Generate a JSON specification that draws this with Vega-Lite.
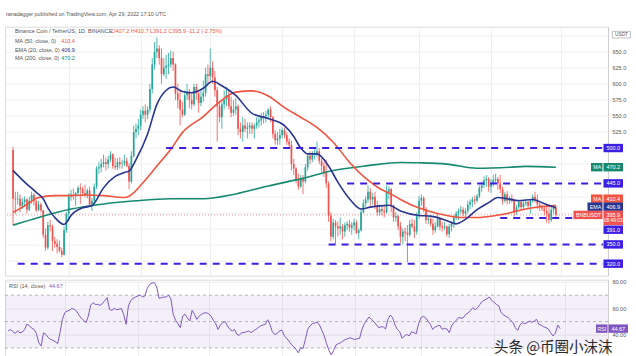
{
"$schema":"https://vega.github.io/schema/vega-lite/v6.json",
"padding":{"left":4,"top":11.7,"right":0,"bottom":0},
"background":"white",
"title":{"text":"ranadagger published on TradingView.com, Apr 29, 2022 17:10 UTC","anchor":"start","fontSize":5.3,"font":"Liberation Sans","fontWeight":"normal","color":"#555555","offset":4,"baseline":"bottom","dx":2},
"config":{"font":"Liberation Sans","view":{"stroke":"#dcdcdc","strokeWidth":1},"concat":{"spacing":2},"axis":{"labelFont":"Liberation Sans"}},
"datasets":{
"k":[
{"d":"2021-09-07","o":497,"h":502,"l":380,"c":421,"r":43},
{"d":"2021-09-08","o":421,"h":432,"l":397,"c":420,"r":44},
{"d":"2021-09-09","o":420,"h":432,"l":412,"c":421,"r":42.5},
{"d":"2021-09-10","o":421,"h":428,"l":400,"c":410,"r":41},
{"d":"2021-09-11","o":410,"h":422,"l":405,"c":416,"r":43},
{"d":"2021-09-12","o":416,"h":425,"l":408,"c":420,"r":41.5},
{"d":"2021-09-13","o":420,"h":422,"l":398,"c":404,"r":42},
{"d":"2021-09-14","o":404,"h":424,"l":402,"c":418,"r":44},
{"d":"2021-09-15","o":418,"h":432,"l":413,"c":427,"r":48},
{"d":"2021-09-16","o":427,"h":430,"l":410,"c":417,"r":47},
{"d":"2021-09-17","o":417,"h":420,"l":400,"c":403,"r":45},
{"d":"2021-09-18","o":403,"h":418,"l":402,"c":412,"r":44},
{"d":"2021-09-19","o":412,"h":415,"l":400,"c":403,"r":41},
{"d":"2021-09-20","o":403,"h":404,"l":360,"c":365,"r":34},
{"d":"2021-09-21","o":365,"h":375,"l":340,"c":345,"r":31.5},
{"d":"2021-09-22","o":345,"h":385,"l":342,"c":380,"r":41.5},
{"d":"2021-09-23","o":380,"h":388,"l":370,"c":378,"r":40.3},
{"d":"2021-09-24","o":378,"h":381,"l":340,"c":355,"r":38},
{"d":"2021-09-25","o":355,"h":362,"l":345,"c":351,"r":36.5},
{"d":"2021-09-26","o":351,"h":358,"l":336,"c":346,"r":35.8},
{"d":"2021-09-27","o":346,"h":356,"l":338,"c":340,"r":34.8},
{"d":"2021-09-28","o":340,"h":345,"l":330,"c":334,"r":33.3},
{"d":"2021-09-29","o":334,"h":378,"l":333,"c":372,"r":41.5},
{"d":"2021-09-30","o":372,"h":400,"l":368,"c":398,"r":51.7},
{"d":"2021-10-01","o":398,"h":430,"l":390,"c":425,"r":56.7},
{"d":"2021-10-02","o":425,"h":435,"l":418,"c":428,"r":58},
{"d":"2021-10-03","o":428,"h":437,"l":420,"c":427,"r":58.5},
{"d":"2021-10-04","o":427,"h":432,"l":410,"c":430,"r":60},
{"d":"2021-10-05","o":430,"h":441,"l":425,"c":438,"r":59.3},
{"d":"2021-10-06","o":438,"h":445,"l":413,"c":436,"r":58},
{"d":"2021-10-07","o":436,"h":440,"l":425,"c":430,"r":55},
{"d":"2021-10-08","o":430,"h":443,"l":424,"c":427,"r":52.5},
{"d":"2021-10-09","o":427,"h":437,"l":422,"c":434,"r":51},
{"d":"2021-10-10","o":434,"h":440,"l":410,"c":412,"r":49.2},
{"d":"2021-10-11","o":412,"h":422,"l":402,"c":418,"r":54.2},
{"d":"2021-10-12","o":418,"h":445,"l":410,"c":440,"r":62.5},
{"d":"2021-10-13","o":440,"h":472,"l":436,"c":468,"r":64.3},
{"d":"2021-10-14","o":468,"h":478,"l":460,"c":470,"r":63},
{"d":"2021-10-15","o":470,"h":483,"l":462,"c":475,"r":63},
{"d":"2021-10-16","o":475,"h":490,"l":470,"c":478,"r":62.3},
{"d":"2021-10-17","o":478,"h":485,"l":465,"c":475,"r":63.6},
{"d":"2021-10-18","o":475,"h":488,"l":468,"c":482,"r":66},
{"d":"2021-10-19","o":482,"h":495,"l":478,"c":490,"r":68.1},
{"d":"2021-10-20","o":490,"h":492,"l":468,"c":472,"r":59.3},
{"d":"2021-10-21","o":472,"h":485,"l":466,"c":470,"r":58.5},
{"d":"2021-10-22","o":470,"h":484,"l":466,"c":478,"r":60},
{"d":"2021-10-23","o":478,"h":486,"l":468,"c":475,"r":59},
{"d":"2021-10-24","o":475,"h":482,"l":468,"c":476,"r":59.3},
{"d":"2021-10-25","o":476,"h":490,"l":472,"c":480,"r":60},
{"d":"2021-10-26","o":480,"h":485,"l":470,"c":472,"r":55.5},
{"d":"2021-10-27","o":472,"h":476,"l":436,"c":448,"r":47.9},
{"d":"2021-10-28","o":448,"h":495,"l":445,"c":488,"r":61.8},
{"d":"2021-10-29","o":488,"h":535,"l":485,"c":525,"r":66},
{"d":"2021-10-30","o":525,"h":538,"l":515,"c":530,"r":67.6},
{"d":"2021-10-31","o":530,"h":545,"l":520,"c":535,"r":68.6},
{"d":"2021-11-01","o":535,"h":560,"l":528,"c":552,"r":69.4},
{"d":"2021-11-02","o":552,"h":565,"l":545,"c":558,"r":70.1},
{"d":"2021-11-03","o":558,"h":568,"l":540,"c":552,"r":68.6},
{"d":"2021-11-04","o":552,"h":565,"l":545,"c":560,"r":69.4},
{"d":"2021-11-05","o":560,"h":600,"l":555,"c":592,"r":75.2},
{"d":"2021-11-06","o":592,"h":640,"l":585,"c":630,"r":78.2},
{"d":"2021-11-07","o":630,"h":665,"l":622,"c":650,"r":79.2},
{"d":"2021-11-08","o":650,"h":672,"l":640,"c":655,"r":79.5},
{"d":"2021-11-09","o":655,"h":660,"l":630,"c":640,"r":76.2},
{"d":"2021-11-10","o":640,"h":655,"l":600,"c":615,"r":67.6},
{"d":"2021-11-11","o":615,"h":640,"l":612,"c":625,"r":68.1},
{"d":"2021-11-12","o":625,"h":645,"l":608,"c":628,"r":68.6},
{"d":"2021-11-13","o":628,"h":648,"l":615,"c":630,"r":68.6},
{"d":"2021-11-14","o":630,"h":652,"l":625,"c":640,"r":70.1},
{"d":"2021-11-15","o":640,"h":650,"l":620,"c":630,"r":67.3},
{"d":"2021-11-16","o":630,"h":632,"l":575,"c":585,"r":55.5},
{"d":"2021-11-17","o":585,"h":600,"l":562,"c":575,"r":51},
{"d":"2021-11-18","o":575,"h":590,"l":535,"c":560,"r":48.4},
{"d":"2021-11-19","o":560,"h":572,"l":548,"c":552,"r":45.4},
{"d":"2021-11-20","o":552,"h":590,"l":550,"c":582,"r":54.2},
{"d":"2021-11-21","o":582,"h":600,"l":575,"c":588,"r":55.5},
{"d":"2021-11-22","o":588,"h":592,"l":562,"c":575,"r":52.9},
{"d":"2021-11-23","o":575,"h":585,"l":560,"c":568,"r":50.4},
{"d":"2021-11-24","o":568,"h":600,"l":565,"c":595,"r":58.5},
{"d":"2021-11-25","o":595,"h":600,"l":575,"c":585,"r":55.5},
{"d":"2021-11-26","o":585,"h":590,"l":555,"c":570,"r":51.7},
{"d":"2021-11-27","o":570,"h":590,"l":565,"c":580,"r":54.2},
{"d":"2021-11-28","o":580,"h":605,"l":572,"c":586,"r":55.5},
{"d":"2021-11-29","o":586,"h":625,"l":580,"c":615,"r":56.5},
{"d":"2021-11-30","o":615,"h":630,"l":600,"c":612,"r":56.7},
{"d":"2021-12-01","o":612,"h":655,"l":605,"c":625,"r":56},
{"d":"2021-12-02","o":625,"h":635,"l":600,"c":610,"r":54.2},
{"d":"2021-12-03","o":610,"h":620,"l":580,"c":590,"r":51},
{"d":"2021-12-04","o":590,"h":595,"l":510,"c":565,"r":48.4},
{"d":"2021-12-05","o":565,"h":572,"l":540,"c":548,"r":44.1},
{"d":"2021-12-06","o":548,"h":575,"l":530,"c":568,"r":47.4},
{"d":"2021-12-07","o":568,"h":590,"l":560,"c":575,"r":49.2},
{"d":"2021-12-08","o":575,"h":595,"l":565,"c":582,"r":50},
{"d":"2021-12-09","o":582,"h":590,"l":560,"c":565,"r":46.7},
{"d":"2021-12-10","o":565,"h":580,"l":548,"c":555,"r":44.1},
{"d":"2021-12-11","o":555,"h":575,"l":550,"c":560,"r":42.9},
{"d":"2021-12-12","o":560,"h":578,"l":552,"c":565,"r":44.1},
{"d":"2021-12-13","o":565,"h":568,"l":520,"c":530,"r":40.3},
{"d":"2021-12-14","o":530,"h":540,"l":515,"c":525,"r":39.6},
{"d":"2021-12-15","o":525,"h":548,"l":510,"c":535,"r":41.6},
{"d":"2021-12-16","o":535,"h":545,"l":525,"c":530,"r":41.6},
{"d":"2021-12-17","o":530,"h":540,"l":515,"c":532,"r":42.3},
{"d":"2021-12-18","o":532,"h":540,"l":522,"c":535,"r":42.9},
{"d":"2021-12-19","o":535,"h":540,"l":522,"c":530,"r":41.6},
{"d":"2021-12-20","o":530,"h":538,"l":515,"c":535,"r":42.9},
{"d":"2021-12-21","o":535,"h":548,"l":530,"c":540,"r":44.1},
{"d":"2021-12-22","o":540,"h":548,"l":532,"c":543,"r":45.4},
{"d":"2021-12-23","o":543,"h":555,"l":535,"c":548,"r":46.7},
{"d":"2021-12-24","o":548,"h":556,"l":538,"c":550,"r":47.4},
{"d":"2021-12-25","o":550,"h":558,"l":540,"c":552,"r":47.9},
{"d":"2021-12-26","o":552,"h":562,"l":545,"c":560,"r":51.4},
{"d":"2021-12-27","o":560,"h":565,"l":540,"c":548,"r":47.9},
{"d":"2021-12-28","o":548,"h":550,"l":515,"c":522,"r":42.3},
{"d":"2021-12-29","o":522,"h":528,"l":505,"c":512,"r":40.3},
{"d":"2021-12-30","o":512,"h":525,"l":505,"c":515,"r":40.8},
{"d":"2021-12-31","o":515,"h":530,"l":505,"c":520,"r":42.9},
{"d":"2022-01-01","o":520,"h":532,"l":515,"c":528,"r":43.6},
{"d":"2022-01-02","o":528,"h":532,"l":515,"c":520,"r":39.6},
{"d":"2022-01-03","o":520,"h":525,"l":505,"c":510,"r":37.3},
{"d":"2022-01-04","o":510,"h":515,"l":500,"c":505,"r":35.3},
{"d":"2022-01-05","o":505,"h":512,"l":465,"c":475,"r":32.8},
{"d":"2022-01-06","o":475,"h":483,"l":458,"c":468,"r":31.2},
{"d":"2022-01-07","o":468,"h":470,"l":445,"c":452,"r":29},
{"d":"2022-01-08","o":452,"h":460,"l":435,"c":440,"r":26.4},
{"d":"2022-01-09","o":440,"h":458,"l":438,"c":452,"r":30.2},
{"d":"2022-01-10","o":452,"h":458,"l":428,"c":448,"r":29.5},
{"d":"2022-01-11","o":448,"h":475,"l":445,"c":470,"r":36.5},
{"d":"2022-01-12","o":470,"h":492,"l":465,"c":488,"r":44.1},
{"d":"2022-01-13","o":488,"h":495,"l":475,"c":482,"r":46.9},
{"d":"2022-01-14","o":482,"h":495,"l":478,"c":490,"r":48.4},
{"d":"2022-01-15","o":490,"h":498,"l":482,"c":492,"r":48.9},
{"d":"2022-01-16","o":492,"h":510,"l":486,"c":495,"r":49.7},
{"d":"2022-01-17","o":495,"h":500,"l":475,"c":480,"r":47.4},
{"d":"2022-01-18","o":480,"h":484,"l":462,"c":472,"r":43.4},
{"d":"2022-01-19","o":472,"h":478,"l":455,"c":462,"r":39.1},
{"d":"2022-01-20","o":462,"h":482,"l":438,"c":445,"r":33.3},
{"d":"2022-01-21","o":445,"h":448,"l":385,"c":395,"r":28.2},
{"d":"2022-01-22","o":395,"h":400,"l":355,"c":362,"r":24.7},
{"d":"2022-01-23","o":362,"h":390,"l":358,"c":384,"r":28.2},
{"d":"2022-01-24","o":384,"h":388,"l":350,"c":378,"r":32.3},
{"d":"2022-01-25","o":378,"h":386,"l":362,"c":375,"r":33.3},
{"d":"2022-01-26","o":375,"h":392,"l":365,"c":378,"r":34},
{"d":"2022-01-27","o":378,"h":382,"l":358,"c":370,"r":35.3},
{"d":"2022-01-28","o":370,"h":384,"l":362,"c":380,"r":36.5},
{"d":"2022-01-29","o":380,"h":386,"l":372,"c":382,"r":37},
{"d":"2022-01-30","o":382,"h":388,"l":370,"c":376,"r":37.8},
{"d":"2022-01-31","o":376,"h":385,"l":365,"c":380,"r":37},
{"d":"2022-02-01","o":380,"h":390,"l":372,"c":384,"r":36.5},
{"d":"2022-02-02","o":384,"h":388,"l":366,"c":368,"r":37},
{"d":"2022-02-03","o":368,"h":375,"l":358,"c":372,"r":37.3},
{"d":"2022-02-04","o":372,"h":405,"l":370,"c":400,"r":44.1},
{"d":"2022-02-05","o":400,"h":420,"l":398,"c":414,"r":48.4},
{"d":"2022-02-06","o":414,"h":425,"l":408,"c":420,"r":51.2},
{"d":"2022-02-07","o":420,"h":442,"l":415,"c":432,"r":53.5},
{"d":"2022-02-08","o":432,"h":438,"l":410,"c":420,"r":51.7},
{"d":"2022-02-09","o":420,"h":430,"l":412,"c":424,"r":50},
{"d":"2022-02-10","o":424,"h":432,"l":405,"c":410,"r":47.9},
{"d":"2022-02-11","o":410,"h":418,"l":395,"c":400,"r":45.4},
{"d":"2022-02-12","o":400,"h":412,"l":395,"c":405,"r":45.9},
{"d":"2022-02-13","o":405,"h":410,"l":395,"c":402,"r":46.1},
{"d":"2022-02-14","o":402,"h":412,"l":392,"c":400,"r":44.4},
{"d":"2022-02-15","o":400,"h":442,"l":398,"c":432,"r":51.7},
{"d":"2022-02-16","o":432,"h":440,"l":420,"c":436,"r":55},
{"d":"2022-02-17","o":436,"h":438,"l":400,"c":410,"r":52.9},
{"d":"2022-02-18","o":410,"h":412,"l":385,"c":392,"r":47.4},
{"d":"2022-02-19","o":392,"h":400,"l":385,"c":394,"r":44.1},
{"d":"2022-02-20","o":394,"h":396,"l":372,"c":378,"r":42.3},
{"d":"2022-02-21","o":378,"h":385,"l":352,"c":362,"r":37.3},
{"d":"2022-02-22","o":362,"h":375,"l":350,"c":370,"r":39.1},
{"d":"2022-02-23","o":370,"h":376,"l":355,"c":368,"r":40.3},
{"d":"2022-02-24","o":368,"h":380,"l":322,"c":365,"r":39.1},
{"d":"2022-02-25","o":365,"h":388,"l":362,"c":382,"r":42.3},
{"d":"2022-02-26","o":382,"h":390,"l":375,"c":378,"r":41.6},
{"d":"2022-02-27","o":378,"h":388,"l":360,"c":370,"r":40.8},
{"d":"2022-02-28","o":370,"h":400,"l":365,"c":396,"r":48.4},
{"d":"2022-03-01","o":396,"h":425,"l":390,"c":418,"r":52.9},
{"d":"2022-03-02","o":418,"h":428,"l":410,"c":422,"r":54},
{"d":"2022-03-03","o":422,"h":425,"l":400,"c":405,"r":52.9},
{"d":"2022-03-04","o":405,"h":408,"l":382,"c":388,"r":50.4},
{"d":"2022-03-05","o":388,"h":395,"l":382,"c":390,"r":47.9},
{"d":"2022-03-06","o":390,"h":392,"l":378,"c":382,"r":44.1},
{"d":"2022-03-07","o":382,"h":390,"l":365,"c":372,"r":45.9},
{"d":"2022-03-08","o":372,"h":385,"l":368,"c":378,"r":46.7},
{"d":"2022-03-09","o":378,"h":398,"l":376,"c":390,"r":47.2},
{"d":"2022-03-10","o":390,"h":392,"l":372,"c":378,"r":44.1},
{"d":"2022-03-11","o":378,"h":385,"l":370,"c":376,"r":44.9},
{"d":"2022-03-12","o":376,"h":385,"l":372,"c":378,"r":44.4},
{"d":"2022-03-13","o":378,"h":380,"l":362,"c":366,"r":41.6},
{"d":"2022-03-14","o":366,"h":382,"l":360,"c":378,"r":46.7},
{"d":"2022-03-15","o":378,"h":386,"l":370,"c":382,"r":49.2},
{"d":"2022-03-16","o":382,"h":396,"l":376,"c":392,"r":51},
{"d":"2022-03-17","o":392,"h":402,"l":388,"c":398,"r":53.2},
{"d":"2022-03-18","o":398,"h":406,"l":388,"c":402,"r":52.5},
{"d":"2022-03-19","o":402,"h":410,"l":398,"c":404,"r":52.9},
{"d":"2022-03-20","o":404,"h":408,"l":394,"c":398,"r":55.5},
{"d":"2022-03-21","o":398,"h":406,"l":392,"c":402,"r":56.5},
{"d":"2022-03-22","o":402,"h":418,"l":398,"c":412,"r":58.5},
{"d":"2022-03-23","o":412,"h":420,"l":405,"c":416,"r":60.5},
{"d":"2022-03-24","o":416,"h":424,"l":408,"c":420,"r":59},
{"d":"2022-03-25","o":420,"h":426,"l":412,"c":418,"r":60.5},
{"d":"2022-03-26","o":418,"h":428,"l":415,"c":425,"r":63},
{"d":"2022-03-27","o":425,"h":442,"l":422,"c":438,"r":65.3},
{"d":"2022-03-28","o":438,"h":448,"l":432,"c":442,"r":66.3},
{"d":"2022-03-29","o":442,"h":456,"l":438,"c":450,"r":67.3},
{"d":"2022-03-30","o":450,"h":458,"l":440,"c":452,"r":68.6},
{"d":"2022-03-31","o":452,"h":455,"l":432,"c":440,"r":66},
{"d":"2022-04-01","o":440,"h":452,"l":430,"c":445,"r":64.6},
{"d":"2022-04-02","o":445,"h":458,"l":440,"c":450,"r":63},
{"d":"2022-04-03","o":450,"h":460,"l":445,"c":452,"r":62},
{"d":"2022-04-04","o":452,"h":455,"l":435,"c":445,"r":56.7},
{"d":"2022-04-05","o":445,"h":458,"l":430,"c":436,"r":55},
{"d":"2022-04-06","o":436,"h":440,"l":412,"c":418,"r":54},
{"d":"2022-04-07","o":418,"h":432,"l":415,"c":428,"r":52.9},
{"d":"2022-04-08","o":428,"h":433,"l":412,"c":418,"r":51.2},
{"d":"2022-04-09","o":418,"h":425,"l":413,"c":422,"r":49.2},
{"d":"2022-04-10","o":422,"h":428,"l":415,"c":418,"r":45.4},
{"d":"2022-04-11","o":418,"h":420,"l":393,"c":400,"r":43.4},
{"d":"2022-04-12","o":400,"h":412,"l":396,"c":408,"r":47.5},
{"d":"2022-04-13","o":408,"h":420,"l":405,"c":416,"r":49.2},
{"d":"2022-04-14","o":416,"h":420,"l":404,"c":408,"r":48.4},
{"d":"2022-04-15","o":408,"h":418,"l":405,"c":414,"r":49.2},
{"d":"2022-04-16","o":414,"h":420,"l":410,"c":416,"r":50.4},
{"d":"2022-04-17","o":416,"h":418,"l":405,"c":410,"r":49.4},
{"d":"2022-04-18","o":410,"h":420,"l":398,"c":418,"r":50.4},
{"d":"2022-04-19","o":418,"h":428,"l":415,"c":424,"r":51.7},
{"d":"2022-04-20","o":424,"h":432,"l":415,"c":420,"r":47.9},
{"d":"2022-04-21","o":420,"h":428,"l":405,"c":412,"r":47.2},
{"d":"2022-04-22","o":412,"h":418,"l":402,"c":408,"r":46.1},
{"d":"2022-04-23","o":408,"h":412,"l":402,"c":406,"r":45.4},
{"d":"2022-04-24","o":406,"h":410,"l":395,"c":402,"r":44.4},
{"d":"2022-04-25","o":402,"h":410,"l":384,"c":398,"r":41.6},
{"d":"2022-04-26","o":398,"h":412,"l":382,"c":388,"r":39.1},
{"d":"2022-04-27","o":388,"h":410,"l":385,"c":404,"r":41.3},
{"d":"2022-04-28","o":404,"h":412,"l":398,"c":407.2,"r":47.4},
{"d":"2022-04-29","o":407.2,"h":410.7,"l":391.2,"c":395.9,"r":44.67}
],
"ma":[
{"d":"2021-09-07","s":"ma200","v":380},{"d":"2021-09-18","s":"ma200","v":392},{"d":"2021-10-02","s":"ma200","v":405},{"d":"2021-10-16","s":"ma200","v":413},{"d":"2021-10-30","s":"ma200","v":418},{"d":"2021-11-14","s":"ma200","v":421},{"d":"2021-11-28","s":"ma200","v":421},{"d":"2021-12-12","s":"ma200","v":428.5},{"d":"2021-12-26","s":"ma200","v":441},{"d":"2022-01-09","s":"ma200","v":452},{"d":"2022-01-23","s":"ma200","v":465},{"d":"2022-02-07","s":"ma200","v":472.6},{"d":"2022-02-21","s":"ma200","v":477.5},{"d":"2022-03-01","s":"ma200","v":477},{"d":"2022-03-13","s":"ma200","v":475},{"d":"2022-03-26","s":"ma200","v":468.5},{"d":"2022-04-09","s":"ma200","v":470},{"d":"2022-04-16","s":"ma200","v":471.5},{"d":"2022-04-29","s":"ma200","v":470.2},
{"d":"2021-09-07","s":"ma50","v":400},{"d":"2021-09-12","s":"ma50","v":410},{"d":"2021-09-18","s":"ma50","v":423},{"d":"2021-09-25","s":"ma50","v":426},{"d":"2021-10-02","s":"ma50","v":426},{"d":"2021-10-09","s":"ma50","v":427},{"d":"2021-10-16","s":"ma50","v":426},{"d":"2021-10-25","s":"ma50","v":423},{"d":"2021-10-27","s":"ma50","v":425},{"d":"2021-11-02","s":"ma50","v":446},{"d":"2021-11-08","s":"ma50","v":472},{"d":"2021-11-14","s":"ma50","v":498},{"d":"2021-11-19","s":"ma50","v":524},{"d":"2021-11-28","s":"ma50","v":549},{"d":"2021-12-05","s":"ma50","v":572},{"d":"2021-12-12","s":"ma50","v":587},{"d":"2021-12-19","s":"ma50","v":589},{"d":"2021-12-26","s":"ma50","v":581},{"d":"2022-01-02","s":"ma50","v":563},{"d":"2022-01-09","s":"ma50","v":548},{"d":"2022-01-16","s":"ma50","v":532},{"d":"2022-01-23","s":"ma50","v":509},{"d":"2022-01-30","s":"ma50","v":478},{"d":"2022-02-07","s":"ma50","v":450},{"d":"2022-02-12","s":"ma50","v":437},{"d":"2022-02-16","s":"ma50","v":430},{"d":"2022-02-21","s":"ma50","v":420},{"d":"2022-02-26","s":"ma50","v":411},{"d":"2022-03-05","s":"ma50","v":402},{"d":"2022-03-13","s":"ma50","v":395},{"d":"2022-03-19","s":"ma50","v":392},{"d":"2022-03-26","s":"ma50","v":392},{"d":"2022-04-03","s":"ma50","v":395},{"d":"2022-04-09","s":"ma50","v":399},{"d":"2022-04-16","s":"ma50","v":405},{"d":"2022-04-23","s":"ma50","v":409},{"d":"2022-04-29","s":"ma50","v":410.4},
{"d":"2021-09-07","s":"ema","v":465},{"d":"2021-09-12","s":"ema","v":447},{"d":"2021-09-17","s":"ema","v":431},{"d":"2021-09-20","s":"ema","v":421},{"d":"2021-09-22","s":"ema","v":407},{"d":"2021-09-25","s":"ema","v":392},{"d":"2021-09-29","s":"ema","v":381},{"d":"2021-09-30","s":"ema","v":384},{"d":"2021-10-02","s":"ema","v":395},{"d":"2021-10-07","s":"ema","v":407},{"d":"2021-10-11","s":"ema","v":410},{"d":"2021-10-12","s":"ema","v":414},{"d":"2021-10-16","s":"ema","v":438},{"d":"2021-10-21","s":"ema","v":456},{"d":"2021-10-25","s":"ema","v":462},{"d":"2021-10-27","s":"ema","v":464},{"d":"2021-10-30","s":"ema","v":482},{"d":"2021-11-04","s":"ema","v":522},{"d":"2021-11-08","s":"ema","v":568},{"d":"2021-11-12","s":"ema","v":590},{"d":"2021-11-15","s":"ema","v":595},{"d":"2021-11-19","s":"ema","v":588},{"d":"2021-11-23","s":"ema","v":586},{"d":"2021-11-28","s":"ema","v":593},{"d":"2021-12-02","s":"ema","v":604},{"d":"2021-12-06","s":"ema","v":597},{"d":"2021-12-12","s":"ema","v":582},{"d":"2021-12-19","s":"ema","v":554},{"d":"2021-12-26","s":"ema","v":546},{"d":"2022-01-02","s":"ema","v":535},{"d":"2022-01-06","s":"ema","v":518},{"d":"2022-01-09","s":"ema","v":500},{"d":"2022-01-12","s":"ema","v":491},{"d":"2022-01-16","s":"ema","v":491},{"d":"2022-01-21","s":"ema","v":472},{"d":"2022-01-25","s":"ema","v":447},{"d":"2022-01-30","s":"ema","v":421},{"d":"2022-02-04","s":"ema","v":405},{"d":"2022-02-08","s":"ema","v":408},{"d":"2022-02-12","s":"ema","v":410},{"d":"2022-02-16","s":"ema","v":411},{"d":"2022-02-21","s":"ema","v":402},{"d":"2022-03-01","s":"ema","v":395},{"d":"2022-03-06","s":"ema","v":394},{"d":"2022-03-13","s":"ema","v":387},{"d":"2022-03-17","s":"ema","v":382},{"d":"2022-03-21","s":"ema","v":389},{"d":"2022-03-26","s":"ema","v":404},{"d":"2022-03-31","s":"ema","v":415},{"d":"2022-04-04","s":"ema","v":423},{"d":"2022-04-08","s":"ema","v":421},{"d":"2022-04-13","s":"ema","v":418},{"d":"2022-04-19","s":"ema","v":420},{"d":"2022-04-23","s":"ema","v":415},{"d":"2022-04-29","s":"ema","v":406.9}
],
"lv":[{"v":500,"from":"2021-11-12"},{"v":445,"from":"2022-01-29"},{"v":391,"from":"2022-04-05"},{"v":350,"from":"2022-01-21"},{"v":320,"from":"2021-09-09"}],
"pl":[
{"t":"500.0","k":"val","c":"lvl","y":500},
{"t":"470.2","k":"val","c":"ma200","y":470.2},
{"t":"MA","k":"ma","c":"ma200","y":470.2},
{"t":"445.0","k":"val","c":"lvl","y":445},
{"t":"410.4","k":"val","c":"ma50","y":421.2},
{"t":"MA","k":"ma","c":"ma50","y":421.2},
{"t":"406.9","k":"val","c":"ema","y":408.7},
{"t":"EMA","k":"ema","c":"ema","y":408.7},
{"t":"395.9","k":"val2","c":"last","y":395.9},
{"t":"BNBUSDT","k":"bnb","c":"last","y":395.9},
{"t":"08:49:03","k":"sub","c":"last","y":386.9},
{"t":"391.0","k":"val","c":"lvl","y":372.9},
{"t":"350.0","k":"val","c":"lvl","y":350},
{"t":"320.0","k":"val","c":"lvl","y":320}
],
"lg":[
{"t":"Binance Coin / TetherUS, 1D, BINANCE","part":"name","c":"lab","y":681.6},
{"t":"O407.2 H410.7 L391.2 C395.9 -11.2 (-2.75%)","part":"ohlc","c":"ohlc","y":681.6},
{"t":"MA (50, close, 0)","part":"name","c":"lab","y":667.1},
{"t":"410.4","part":"value","c":"ma50","y":667.1},
{"t":"EMA (20, close, 0)","part":"name","c":"lab","y":653.1},
{"t":"406.9","part":"value","c":"ema","y":653.1},
{"t":"MA (200, close, 0)","part":"name","c":"lab","y":639.6},
{"t":"470.2","part":"value","c":"ma200","y":639.6}
]
},
"vconcat":[
{
"width":603,"height":249,
"resolve":{"axis":{"x":"independent","y":"independent"}},
"layer":[
{"data":{"name":"k"},"mark":{"type":"rule","strokeWidth":0.8},
 "encoding":{
  "x":{"field":"d","type":"temporal","scale":{"domain":[{"year":2021,"month":9,"date":5,"hours":16,"minutes":30,"utc":true},{"year":2022,"month":5,"date":19,"hours":7,"utc":true}],"nice":false},
       "axis":{"orient":"bottom","values":[{"year":2021,"month":10,"date":1,"utc":true},{"year":2021,"month":11,"date":1,"utc":true},{"year":2021,"month":12,"date":1,"utc":true},{"year":2022,"month":1,"date":1,"utc":true},{"year":2022,"month":2,"date":1,"utc":true},{"year":2022,"month":3,"date":1,"utc":true},{"year":2022,"month":4,"date":1,"utc":true},{"year":2022,"month":5,"date":1,"utc":true}],"grid":true,"gridColor":"#efefef","labels":false,"ticks":false,"domain":false,"title":null}},
  "y":{"field":"l","type":"quantitative","scale":{"domain":[301.3,688.9],"nice":false,"zero":false},
       "axis":{"orient":"right","values":[325,350,375,400,425,450,475,500,525,550,575,600,625,650,675],"format":".1f","labelExpr":"datum.value >= 525 && datum.value <= 650 ? datum.label : ''","grid":true,"gridColor":"#f0f0f0","ticks":false,"domain":true,"domainColor":"#d0d0d0","labelFontSize":5.5,"labelColor":"#555555","labelPadding":4,"labelOverlap":false,"title":null}},
  "y2":{"field":"h"},
  "color":{"condition":{"test":"datum.c >= datum.o","value":"#26a69a"},"value":"#ef5350"}}},
{"data":{"values":[{"v":395.9}]},"mark":{"type":"rule","color":"#ef5350","strokeDash":[1,2],"strokeWidth":0.8,"opacity":0.8},
 "encoding":{"y":{"field":"v","type":"quantitative","scale":{"domain":[301.3,688.9],"nice":false,"zero":false},"axis":null}}},
{"data":{"name":"k"},"mark":{"type":"bar","size":1.7},
 "encoding":{
  "x":{"field":"d","type":"temporal","scale":{"domain":[{"year":2021,"month":9,"date":5,"hours":16,"minutes":30,"utc":true},{"year":2022,"month":5,"date":19,"hours":7,"utc":true}],"nice":false},"axis":null},
  "y":{"field":"o","type":"quantitative","scale":{"domain":[301.3,688.9],"nice":false,"zero":false},"axis":null},
  "y2":{"field":"c"},
  "color":{"condition":{"test":"datum.c >= datum.o","value":"#26a69a"},"value":"#ef5350"}}},
{"data":{"name":"ma"},"mark":{"type":"line","strokeWidth":1.6,"interpolate":"monotone"},
 "encoding":{
  "x":{"field":"d","type":"temporal","scale":{"domain":[{"year":2021,"month":9,"date":5,"hours":16,"minutes":30,"utc":true},{"year":2022,"month":5,"date":19,"hours":7,"utc":true}],"nice":false},"axis":null},
  "y":{"field":"v","type":"quantitative","scale":{"domain":[301.3,688.9],"nice":false,"zero":false},"axis":null},
  "color":{"field":"s","type":"nominal","scale":{"domain":["lvl","ma200","ma50","ema","last","lab","ohlc"],"range":["#3b1fe3","#17896f","#f0533e","#283593","#ef5350","#555555","#ef5350"]},"legend":null}}},
{"data":{"name":"lv"},"mark":{"type":"rule","color":"#3b1fe3","strokeWidth":2,"strokeDash":[7,6]},
 "encoding":{
  "x":{"field":"from","type":"temporal","scale":{"domain":[{"year":2021,"month":9,"date":5,"hours":16,"minutes":30,"utc":true},{"year":2022,"month":5,"date":19,"hours":7,"utc":true}],"nice":false},"axis":null},
  "x2":{"datum":{"year":2022,"month":5,"date":19,"hours":7,"utc":true}},
  "y":{"field":"v","type":"quantitative","scale":{"domain":[301.3,688.9],"nice":false,"zero":false},"axis":null}}},
{"data":{"name":"lg"},"transform":[{"filter":"datum.part == 'name'"}],"mark":{"type":"text","align":"left","baseline":"middle","fontSize":5.5},
 "encoding":{
  "x":{"datum":{"year":2021,"month":9,"date":7,"hours":19,"minutes":30,"utc":true},"type":"temporal","axis":null},
  "y":{"field":"y","type":"quantitative","scale":{"domain":[301.3,688.9],"nice":false,"zero":false},"axis":null},
  "text":{"field":"t"},
  "color":{"field":"c","type":"nominal","scale":{"domain":["lvl","ma200","ma50","ema","last","lab","ohlc"],"range":["#3b1fe3","#17896f","#f0533e","#283593","#ef5350","#555555","#ef5350"]},"legend":null}}},
{"data":{"name":"lg"},"transform":[{"filter":"datum.part == 'value'"}],"mark":{"type":"text","align":"left","baseline":"middle","fontSize":5.5},
 "encoding":{
  "x":{"datum":{"year":2021,"month":9,"date":27,"hours":17,"minutes":30,"utc":true},"type":"temporal","axis":null},
  "y":{"field":"y","type":"quantitative","scale":{"domain":[301.3,688.9],"nice":false,"zero":false},"axis":null},
  "text":{"field":"t"},
  "color":{"field":"c","type":"nominal","scale":{"domain":["lvl","ma200","ma50","ema","last","lab","ohlc"],"range":["#3b1fe3","#17896f","#f0533e","#283593","#ef5350","#555555","#ef5350"]},"legend":null}}},
{"data":{"name":"lg"},"transform":[{"filter":"datum.part == 'ohlc'"}],"mark":{"type":"text","align":"left","baseline":"middle","fontSize":5.5},
 "encoding":{
  "x":{"datum":{"year":2021,"month":10,"date":19,"hours":8,"minutes":20,"utc":true},"type":"temporal","axis":null},
  "y":{"field":"y","type":"quantitative","scale":{"domain":[301.3,688.9],"nice":false,"zero":false},"axis":null},
  "text":{"field":"t"},
  "color":{"field":"c","type":"nominal","scale":{"domain":["lvl","ma200","ma50","ema","last","lab","ohlc"],"range":["#3b1fe3","#17896f","#f0533e","#283593","#ef5350","#555555","#ef5350"]},"legend":null}}},
{"data":{"name":"pl"},"transform":[{"filter":"datum.k != 'sub'"}],"mark":{"type":"point","filled":true,"size":400,"opacity":1,"strokeWidth":0},
 "encoding":{
  "x":{"datum":{"year":2022,"month":5,"date":19,"hours":7,"utc":true},"type":"temporal","axis":null},
  "y":{"field":"y","type":"quantitative","scale":{"domain":[301.3,688.9],"nice":false,"zero":false},"axis":null},
  "shape":{"field":"k","type":"nominal","scale":{"domain":["val","val2","ma","ema","bnb"],"range":["M0.05,-0.42H2V0.42H0.05Z","M0.05,-0.42H2V1.02H0.05Z","M-1.2,-0.42H-0.05V0.42H-1.2Z","M-1.55,-0.42H-0.05V0.42H-1.55Z","M-2.95,-0.42H-0.05V0.42H-2.95Z"]},"legend":null},
  "color":{"field":"c","type":"nominal","scale":{"domain":["lvl","ma200","ma50","ema","last","lab","ohlc"],"range":["#3b1fe3","#17896f","#f0533e","#283593","#ef5350","#555555","#ef5350"]},"legend":null}}},
{"data":{"name":"pl"},"transform":[{"filter":"datum.k == 'val' || datum.k == 'val2'"}],"mark":{"type":"text","align":"center","baseline":"middle","fontSize":5.5,"color":"white","dx":10.25},
 "encoding":{
  "x":{"datum":{"year":2022,"month":5,"date":19,"hours":7,"utc":true},"type":"temporal","axis":null},
  "y":{"field":"y","type":"quantitative","scale":{"domain":[301.3,688.9],"nice":false,"zero":false},"axis":null},
  "text":{"field":"t"}}},
{"data":{"name":"pl"},"transform":[{"filter":"datum.k == 'sub'"}],"mark":{"type":"text","align":"center","baseline":"middle","fontSize":4.8,"color":"white","dx":10.25},
 "encoding":{
  "x":{"datum":{"year":2022,"month":5,"date":19,"hours":7,"utc":true},"type":"temporal","axis":null},
  "y":{"field":"y","type":"quantitative","scale":{"domain":[301.3,688.9],"nice":false,"zero":false},"axis":null},
  "text":{"field":"t"}}},
{"data":{"name":"pl"},"transform":[{"filter":"datum.k == 'ma' || datum.k == 'ema' || datum.k == 'bnb'"}],"mark":{"type":"text","align":"right","baseline":"middle","fontSize":5.3,"color":"white","dx":-1.8},
 "encoding":{
  "x":{"datum":{"year":2022,"month":5,"date":19,"hours":7,"utc":true},"type":"temporal","axis":null},
  "y":{"field":"y","type":"quantitative","scale":{"domain":[301.3,688.9],"nice":false,"zero":false},"axis":null},
  "text":{"field":"t"}}},
{"data":{"values":[{"t":"USDT","y":676.5}]},"mark":{"type":"point","filled":true,"size":400,"opacity":1,"fill":"white","stroke":"#9a9a9a","strokeWidth":0.6,"shape":"M0.95,-0.33H2.75V0.33H0.95Z"},
 "encoding":{
  "x":{"datum":{"year":2022,"month":5,"date":19,"hours":7,"utc":true},"type":"temporal","axis":null},
  "y":{"field":"y","type":"quantitative","scale":{"domain":[301.3,688.9],"nice":false,"zero":false},"axis":null}}},
{"data":{"values":[{"t":"USDT","y":676.5}]},"mark":{"type":"text","align":"center","baseline":"middle","fontSize":4.8,"color":"#555555","dx":18.5},
 "encoding":{
  "x":{"datum":{"year":2022,"month":5,"date":19,"hours":7,"utc":true},"type":"temporal","axis":null},
  "y":{"field":"y","type":"quantitative","scale":{"domain":[301.3,688.9],"nice":false,"zero":false},"axis":null},
  "text":{"field":"t"}}}
]
},
{
"width":603,"height":84,
"resolve":{"axis":{"x":"independent","y":"independent"}},
"layer":[
{"data":{"name":"k"},"mark":{"type":"line","color":"#7e57c2","strokeWidth":1,"opacity":0},
 "encoding":{
  "x":{"field":"d","type":"temporal","scale":{"domain":[{"year":2021,"month":9,"date":5,"hours":16,"minutes":30,"utc":true},{"year":2022,"month":5,"date":19,"hours":7,"utc":true}],"nice":false},
       "axis":{"orient":"bottom","values":[{"year":2021,"month":10,"date":1,"utc":true},{"year":2021,"month":11,"date":1,"utc":true},{"year":2021,"month":12,"date":1,"utc":true},{"year":2022,"month":1,"date":1,"utc":true},{"year":2022,"month":2,"date":1,"utc":true},{"year":2022,"month":3,"date":1,"utc":true},{"year":2022,"month":4,"date":1,"utc":true},{"year":2022,"month":5,"date":1,"utc":true}],"grid":true,"gridColor":"#efefef","labels":false,"ticks":false,"domain":false,"title":null}},
  "y":{"field":"r","type":"quantitative","scale":{"domain":[18.11,81.74],"nice":false,"zero":false},
   "axis":{"orient":"right","values":[40,60,80],"format":".2f","grid":true,"gridColor":"#ececec","ticks":false,"domain":true,"domainColor":"#d0d0d0","labelFontSize":5.5,"labelColor":"#555555","labelPadding":4,"labelOverlap":false,"title":null}}}},
{"data":{"values":[{"lo":30,"hi":70}]},"mark":{"type":"rect","color":"#7e57c2","opacity":0.09},
 "encoding":{"y":{"field":"lo","type":"quantitative","scale":{"domain":[18.11,81.74],"nice":false,"zero":false},"axis":null},
  "y2":{"field":"hi"}}},
{"data":{"values":[{"v":70},{"v":50},{"v":30}]},"mark":{"type":"rule","color":"#9a9a9a","strokeDash":[3,3],"strokeWidth":0.7},
 "encoding":{"y":{"field":"v","type":"quantitative","scale":{"domain":[18.11,81.74],"nice":false,"zero":false},"axis":null}}},
{"data":{"name":"k"},"mark":{"type":"line","color":"#7e57c2","strokeWidth":1},
 "encoding":{
  "x":{"field":"d","type":"temporal","scale":{"domain":[{"year":2021,"month":9,"date":5,"hours":16,"minutes":30,"utc":true},{"year":2022,"month":5,"date":19,"hours":7,"utc":true}],"nice":false},"axis":null},
  "y":{"field":"r","type":"quantitative","scale":{"domain":[18.11,81.74],"nice":false,"zero":false},"axis":null}}},
{"data":{"values":[{"t":"RSI (14, close)","y":77.2}]},"mark":{"type":"text","align":"left","baseline":"middle","fontSize":5.5,"color":"#555555"},
 "encoding":{
  "x":{"datum":{"year":2021,"month":9,"date":7,"hours":9,"utc":true},"type":"temporal","axis":null},
  "y":{"field":"y","type":"quantitative","scale":{"domain":[18.11,81.74],"nice":false,"zero":false},"axis":null},
  "text":{"field":"t"}}},
{"data":{"values":[{"t":"44.67","y":77.2}]},"mark":{"type":"text","align":"left","baseline":"middle","fontSize":5.5,"color":"#7e57c2"},
 "encoding":{
  "x":{"datum":{"year":2021,"month":9,"date":24,"hours":8,"utc":true},"type":"temporal","axis":null},
  "y":{"field":"y","type":"quantitative","scale":{"domain":[18.11,81.74],"nice":false,"zero":false},"axis":null},
  "text":{"field":"t"}}},
{"data":{"values":[{"t":"44.67","k":"val","y":44.67},{"t":"RSI","k":"ma","y":44.67}]},"mark":{"type":"point","filled":true,"size":400,"opacity":1,"strokeWidth":0,"color":"#7e57c2"},
 "encoding":{
  "x":{"datum":{"year":2022,"month":5,"date":19,"hours":7,"utc":true},"type":"temporal","axis":null},
  "y":{"field":"y","type":"quantitative","scale":{"domain":[18.11,81.74],"nice":false,"zero":false},"axis":null},
  "shape":{"field":"k","type":"nominal","scale":{"domain":["val","ma"],"range":["M0.05,-0.42H2V0.42H0.05Z","M-1.2,-0.42H-0.05V0.42H-1.2Z"]},"legend":null}}},
{"data":{"values":[{"t":"44.67","y":44.67}]},"mark":{"type":"text","align":"center","baseline":"middle","fontSize":5.5,"color":"white","dx":10.25},
 "encoding":{
  "x":{"datum":{"year":2022,"month":5,"date":19,"hours":7,"utc":true},"type":"temporal","axis":null},
  "y":{"field":"y","type":"quantitative","scale":{"domain":[18.11,81.74],"nice":false,"zero":false},"axis":null},
  "text":{"field":"t"}}},
{"data":{"values":[{"t":"RSI","y":44.67}]},"mark":{"type":"text","align":"right","baseline":"middle","fontSize":5.3,"color":"white","dx":-1.8},
 "encoding":{
  "x":{"datum":{"year":2022,"month":5,"date":19,"hours":7,"utc":true},"type":"temporal","axis":null},
  "y":{"field":"y","type":"quantitative","scale":{"domain":[18.11,81.74],"nice":false,"zero":false},"axis":null},
  "text":{"field":"t"}}},
{"data":{"values":[{"t":"头条 @币圈小沫沫","y":29.9}]},"mark":{"type":"text","align":"left","baseline":"middle","fontSize":14.5,"font":"Noto Sans CJK SC","color":"#2a2a2a"},
 "encoding":{
  "x":{"datum":{"year":2022,"month":4,"date":1,"utc":true},"type":"temporal","axis":null},
  "y":{"field":"y","type":"quantitative","scale":{"domain":[18.11,81.74],"nice":false,"zero":false},"axis":null},
  "text":{"field":"t"}}}
]
}
]
}
